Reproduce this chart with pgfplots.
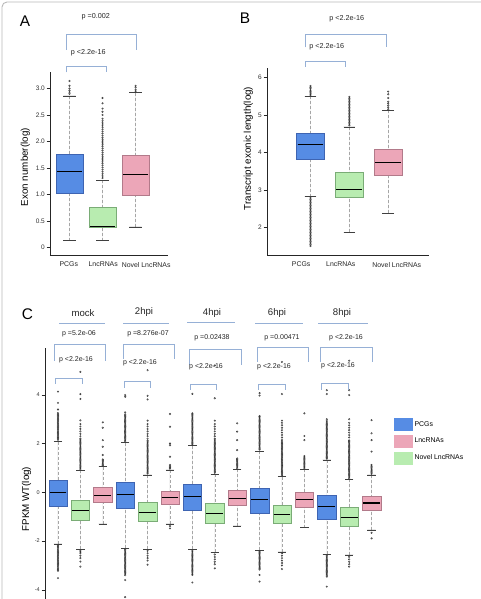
\documentclass[border=0pt]{standalone}
\usepackage{fontspec}
\setmainfont{Liberation Sans}
\usepackage{pgfplots}
\pgfplotsset{compat=1.18}
\usepgfplotslibrary{statistics}

\definecolor{cblue}{RGB}{86,140,228}
\definecolor{cblueD}{RGB}{62,100,178}
\definecolor{cpink}{RGB}{236,166,184}
\definecolor{cpinkD}{RGB}{178,122,138}
\definecolor{cgreen}{RGB}{184,236,176}
\definecolor{cgreenD}{RGB}{122,172,118}
\definecolor{brk}{RGB}{150,176,214}
\newcommand{\fs}[1]{\fontsize{#1}{#1}\selectfont}

\pgfplotsset{
  boxplot/draw/lower whisker/.code={%
    \draw[densely dashed, gray!70, line width=0.35pt]
      (boxplot box cs:\pgfplotsboxplotvalue{lower whisker},0.5) --
      (boxplot box cs:\pgfplotsboxplotvalue{lower quartile},0.5);
    \draw[solid, black!75, line width=0.5pt]
      (boxplot whisker cs:\pgfplotsboxplotvalue{lower whisker},0) --
      (boxplot whisker cs:\pgfplotsboxplotvalue{lower whisker},1);
  },
  boxplot/draw/upper whisker/.code={%
    \draw[densely dashed, gray!70, line width=0.35pt]
      (boxplot box cs:\pgfplotsboxplotvalue{upper whisker},0.5) --
      (boxplot box cs:\pgfplotsboxplotvalue{upper quartile},0.5);
    \draw[solid, black!75, line width=0.5pt]
      (boxplot whisker cs:\pgfplotsboxplotvalue{upper whisker},0) --
      (boxplot whisker cs:\pgfplotsboxplotvalue{upper whisker},1);
  },
  boxplot/draw/median/.code={%
    \draw[solid, black, line width=1.1pt]
      (boxplot box cs:\pgfplotsboxplotvalue{median},0.04) --
      (boxplot box cs:\pgfplotsboxplotvalue{median},0.96);
  },
  outl/.style={mark=o, mark size=0.8pt, mark options={draw=black!80, fill=none, solid, line width=0.4pt}},
  bB/.style={forget plot, fill=cblue, draw=cblueD, line width=0.45pt, outl},
  bP/.style={forget plot, fill=cpink, draw=cpinkD, line width=0.45pt, outl},
  bG/.style={forget plot, fill=cgreen, draw=cgreenD, line width=0.45pt, outl},
  common/.style={scale only axis, anchor=south west, clip=false,
    boxplot/draw direction=y,
    tick align=outside, major tick length=3.5pt,
    axis line style={black!85, line width=0.7pt},
    ytick style={black!85, line width=0.5pt},
    xtick style={draw=none},
    yticklabel style={font=\fs{6.5}, text=black!80, inner sep=1.5pt},
    xticklabel style={font=\fs{6.9}, text=black!85},
  },
}

\begin{document}
\begin{tikzpicture}
\useasboundingbox (0pt,0pt) rectangle (480pt,599pt);
\fill[white] (0pt,0pt) rectangle (480pt,599pt);

% ---------------- Panel A ----------------
\begin{axis}[common, at={(50pt,344pt)}, width=118pt, height=183pt,
  xmin=0.41, xmax=3.98, ymin=-0.14, ymax=3.31,
  axis lines*=left,
  xtick={0.98,2.02,3.32}, xticklabels={PCGs,LncRNAs,Novel LncRNAs},
  ytick={0,0.5,1,1.5,2,2.5,3}, yticklabels={0,0.5,1.0,1.5,2.0,2.5,3.0},
  ylabel={Exon number(log)},
  ylabel style={at={(axis description cs:-0.21,0.48)}, anchor=center, font=\fs{9.8}},
  boxplot/box extend=0.82, boxplot/whisker extend=0.37,
]
\addplot[bB, boxplot prepared={draw position=1, lower whisker=0.13, lower quartile=1.02, median=1.44, upper quartile=1.76, upper whisker=2.86}]
  table[row sep=\\, y index=0]{y\\ 2.9\\ 2.93\\ 2.96\\ 3.0\\ 3.05\\ 3.14\\};
\addplot[bG, boxplot prepared={draw position=2, lower whisker=0.13, lower quartile=0.38, median=0.39, upper quartile=0.76, upper whisker=1.27}]
  table[row sep=\\, y index=0]{y\\ 1.31\\ 1.35\\ 1.39\\ 1.43\\ 1.47\\ 1.51\\ 1.55\\ 1.59\\ 1.63\\ 1.67\\ 1.71\\ 1.75\\ 1.79\\ 1.83\\ 1.87\\ 1.91\\ 1.95\\ 1.99\\ 2.03\\ 2.07\\ 2.11\\ 2.15\\ 2.19\\ 2.23\\ 2.27\\ 2.31\\ 2.35\\ 2.39\\ 2.43\\ 2.5\\ 2.56\\ 2.62\\ 2.72\\ 2.82\\};
\addplot[bP, boxplot prepared={draw position=3, lower whisker=0.39, lower quartile=0.98, median=1.37, upper quartile=1.75, upper whisker=2.92}]
  table[row sep=\\, y index=0]{y\\ 2.95\\ 2.98\\ 3.02\\ 3.05\\};
\end{axis}

% ---------------- Panel B ----------------
\begin{axis}[common, at={(267pt,344pt)}, width=162pt, height=187pt,
  xmin=-0.12, xmax=4.05, ymin=1.26, ymax=6.25,
  axis lines*=left,
  xtick={0.76,1.78,3.22}, xticklabels={PCGs,LncRNAs,Novel LncRNAs},
  ytick={2,3,4,5,6}, yticklabels={2,3,4,5,6},
  ylabel={Transcript exonic length(log)},
  ylabel style={at={(axis description cs:-0.115,0.57)}, anchor=center, font=\fs{9.8}},
  boxplot/box extend=0.72, boxplot/whisker extend=0.3,
]
\addplot[bB, boxplot prepared={draw position=1, lower whisker=2.82, lower quartile=3.81, median=4.21, upper quartile=4.50, upper whisker=5.50}]
  table[row sep=\\, y index=0]{y\\ 5.53\\ 5.56\\ 5.6\\ 5.63\\ 5.66\\ 5.7\\ 5.73\\ 5.77\\ 2.78\\ 2.74\\ 2.70\\ 2.66\\ 2.62\\ 2.58\\ 2.54\\ 2.50\\ 2.46\\ 2.42\\ 2.38\\ 2.34\\ 2.30\\ 2.26\\ 2.22\\ 2.18\\ 2.14\\ 2.10\\ 2.06\\ 2.02\\ 1.98\\ 1.94\\ 1.90\\ 1.86\\ 1.82\\ 1.78\\ 1.74\\ 1.70\\ 1.66\\ 1.62\\ 1.58\\ 1.54\\ 1.50\\};
\addplot[bG, boxplot prepared={draw position=2, lower whisker=1.87, lower quartile=2.79, median=3.01, upper quartile=3.47, upper whisker=4.68}]
  table[row sep=\\, y index=0]{y\\ 4.72\\ 4.76\\ 4.80\\ 4.84\\ 4.88\\ 4.92\\ 4.96\\ 5.00\\ 5.04\\ 5.08\\ 5.12\\ 5.16\\ 5.20\\ 5.24\\ 5.28\\ 5.32\\ 5.36\\ 5.40\\ 5.44\\ 5.48\\};
\addplot[bP, boxplot prepared={draw position=3, lower whisker=2.38, lower quartile=3.39, median=3.72, upper quartile=4.08, upper whisker=5.12}]
  table[row sep=\\, y index=0]{y\\ 5.15\\ 5.2\\ 5.25\\ 5.3\\ 5.35\\ 5.45\\ 5.55\\ 5.62\\};
\end{axis}

% ---------------- Panel C ----------------
\begin{axis}[common, at={(45pt,-3pt)}, width=340pt, height=254pt,
  xmin=-0.58, xmax=14.6, ymin=-4.5, ymax=5.92,
  axis y line*=left, axis x line=none,
  ytick={-4,-2,0,2,4}, yticklabels={-4,-2,0,2,4},
  yticklabel style={font=\fs{5.5}},
  ylabel={FPKM WT(log)},
  ylabel style={at={(axis description cs:-0.054,0.405)}, anchor=center, font=\fs{9.8}},
  boxplot/box extend=0.82, boxplot/whisker extend=0.37,
  legend style={at={(axis cs:15.0,3.05)}, anchor=north west, draw=none, fill=none,
    inner sep=0pt, font=\fs{6.9}, row sep=4.5pt},
  legend cell align=left,
]
% mock
\addplot[bB, boxplot prepared={draw position=0, lower whisker=-2.12, lower quartile=-0.56, median=0.0, upper quartile=0.51, upper whisker=2.08}]
  table[row sep=\\, y index=0]{y\\ 2.15\\ 2.2\\ 2.25\\ 2.3\\ 2.35\\ 2.4\\ 2.45\\ 2.5\\ 2.55\\ 2.6\\ 2.65\\ 2.7\\ 2.75\\ 2.8\\ 2.85\\ 2.9\\ 2.95\\ 3.0\\ 3.05\\ 3.1\\ 3.15\\ 3.2\\ 3.25\\ 3.4\\ 3.67\\ 4.13\\ -2.17\\ -2.22\\ -2.27\\ -2.32\\ -2.37\\ -2.42\\ -2.47\\ -2.52\\ -2.57\\ -2.62\\ -2.67\\ -2.72\\ -2.77\\ -2.82\\ -2.87\\ -2.92\\ -2.97\\ -3.02\\ -3.07\\ -3.12\\ -3.17\\ -3.22\\ -3.52\\};
\addplot[bG, boxplot prepared={draw position=1, lower whisker=-2.34, lower quartile=-1.13, median=-0.74, upper quartile=-0.33, upper whisker=0.90}]
  table[row sep=\\, y index=0]{y\\ 0.95\\ 1.0\\ 1.05\\ 1.1\\ 1.15\\ 1.2\\ 1.25\\ 1.3\\ 1.35\\ 1.4\\ 1.45\\ 1.5\\ 1.55\\ 1.6\\ 1.65\\ 1.7\\ 1.75\\ 1.8\\ 1.85\\ 1.9\\ 1.95\\ 2.0\\ 2.05\\ 2.1\\ 2.15\\ 2.2\\ 2.3\\ 2.4\\ 2.5\\ 2.6\\ 2.7\\ 2.8\\ 2.95\\ 3.83\\ 4.03\\ 4.94\\ -2.4\\ -2.45\\ -2.5\\ -2.6\\ -2.7\\ -2.84\\ -3.05\\};
\addplot[bP, boxplot prepared={draw position=2, lower whisker=-1.30, lower quartile=-0.42, median=-0.12, upper quartile=0.19, upper whisker=1.05}]
  table[row sep=\\, y index=0]{y\\ 1.1\\ 1.15\\ 1.2\\ 1.25\\ 1.3\\ 1.35\\ 1.53\\ 1.87\\ 2.14\\ 2.65\\ 2.87\\};
% 2hpi
\addplot[bB, boxplot prepared={draw position=3, lower whisker=-2.30, lower quartile=-0.66, median=-0.08, upper quartile=0.41, upper whisker=2.04}]
  table[row sep=\\, y index=0]{y\\ 2.1\\ 2.15\\ 2.2\\ 2.25\\ 2.3\\ 2.35\\ 2.4\\ 2.45\\ 2.5\\ 2.55\\ 2.6\\ 2.65\\ 2.7\\ 2.75\\ 2.8\\ 2.85\\ 2.9\\ 2.95\\ 3.0\\ 3.05\\ 3.1\\ 3.15\\ 3.2\\ 3.28\\ 3.92\\ 3.99\\ -2.35\\ -2.4\\ -2.45\\ -2.5\\ -2.55\\ -2.6\\ -2.65\\ -2.7\\ -2.75\\ -2.8\\ -2.85\\ -2.9\\ -2.95\\ -3.0\\ -3.05\\ -3.1\\ -3.15\\ -3.2\\ -3.25\\ -3.3\\ -3.35\\ -3.4\\ -3.6\\ -4.3\\};
\addplot[bG, boxplot prepared={draw position=4, lower whisker=-2.34, lower quartile=-1.20, median=-0.82, upper quartile=-0.42, upper whisker=0.72}]
  table[row sep=\\, y index=0]{y\\ 0.77\\ 0.82\\ 0.87\\ 0.92\\ 0.97\\ 1.02\\ 1.07\\ 1.12\\ 1.17\\ 1.22\\ 1.27\\ 1.32\\ 1.37\\ 1.42\\ 1.47\\ 1.52\\ 1.57\\ 1.62\\ 1.67\\ 1.72\\ 1.77\\ 1.82\\ 1.87\\ 1.92\\ 1.97\\ 2.02\\ 2.07\\ 2.12\\ 2.2\\ 2.3\\ 2.4\\ 2.5\\ 2.6\\ 2.7\\ 2.8\\ 2.94\\ 3.81\\ 3.96\\ 5.01\\ -2.4\\ -2.5\\ -2.6\\ -2.7\\ -2.8\\ -2.97\\};
\addplot[bP, boxplot prepared={draw position=5, lower whisker=-1.30, lower quartile=-0.49, median=-0.23, upper quartile=0.05, upper whisker=0.92}]
  table[row sep=\\, y index=0]{y\\ 0.97\\ 1.02\\ 1.07\\ 1.12\\ 1.46\\ 1.93\\ 2.0\\ 2.69\\ 3.21\\ -1.38\\ -1.48\\};
% 4hpi
\addplot[bB, boxplot prepared={draw position=6, lower whisker=-2.34, lower quartile=-0.75, median=-0.18, upper quartile=0.33, upper whisker=1.91}]
  table[row sep=\\, y index=0]{y\\ 1.95\\ 2.0\\ 2.05\\ 2.1\\ 2.15\\ 2.2\\ 2.25\\ 2.3\\ 2.35\\ 2.4\\ 2.45\\ 2.5\\ 2.55\\ 2.6\\ 2.65\\ 2.7\\ 2.75\\ 2.8\\ 2.85\\ 2.9\\ 2.95\\ 3.0\\ 3.05\\ 3.1\\ 3.15\\ 3.2\\ 3.24\\ 4.04\\ -2.4\\ -2.45\\ -2.5\\ -2.55\\ -2.6\\ -2.65\\ -2.7\\ -2.75\\ -2.8\\ -2.85\\ -2.9\\ -2.95\\ -3.0\\ -3.05\\ -3.1\\ -3.15\\ -3.2\\ -3.25\\ -3.3\\ -3.35\\ -3.39\\ -3.7\\};
\addplot[bG, boxplot prepared={draw position=7, lower whisker=-2.46, lower quartile=-1.27, median=-0.86, upper quartile=-0.45, upper whisker=0.75}]
  table[row sep=\\, y index=0]{y\\ 0.8\\ 0.85\\ 0.9\\ 0.95\\ 1.0\\ 1.05\\ 1.1\\ 1.15\\ 1.2\\ 1.25\\ 1.3\\ 1.35\\ 1.4\\ 1.45\\ 1.5\\ 1.55\\ 1.6\\ 1.65\\ 1.7\\ 1.75\\ 1.8\\ 1.85\\ 1.9\\ 1.95\\ 2.0\\ 2.05\\ 2.1\\ 2.15\\ 2.2\\ 2.3\\ 2.4\\ 2.5\\ 2.6\\ 2.7\\ 2.8\\ 2.94\\ 3.86\\ 5.2\\ -2.55\\ -2.65\\ -2.75\\ -2.85\\ -2.95\\ -3.12\\};
\addplot[bP, boxplot prepared={draw position=8, lower whisker=-1.38, lower quartile=-0.53, median=-0.25, upper quartile=0.07, upper whisker=0.94}]
  table[row sep=\\, y index=0]{y\\ 0.99\\ 1.04\\ 1.09\\ 1.14\\ 1.19\\ 1.24\\ 1.29\\ 1.34\\ 1.39\\ 1.73\\ 2.14\\ 2.49\\ 2.83\\};
% 6hpi
\addplot[bB, boxplot prepared={draw position=9, lower whisker=-2.37, lower quartile=-0.86, median=-0.31, upper quartile=0.16, upper whisker=1.69}]
  table[row sep=\\, y index=0]{y\\ 1.75\\ 1.8\\ 1.85\\ 1.9\\ 1.95\\ 2.0\\ 2.05\\ 2.1\\ 2.15\\ 2.2\\ 2.25\\ 2.3\\ 2.35\\ 2.4\\ 2.45\\ 2.5\\ 2.55\\ 2.6\\ 2.65\\ 2.7\\ 2.75\\ 2.8\\ 2.85\\ 2.9\\ 2.95\\ 3.0\\ 3.05\\ 3.1\\ 3.13\\ 3.97\\ 4.07\\ -2.42\\ -2.47\\ -2.52\\ -2.57\\ -2.62\\ -2.67\\ -2.72\\ -2.77\\ -2.82\\ -2.87\\ -2.92\\ -2.97\\ -3.02\\ -3.07\\ -3.12\\ -3.17\\ -3.39\\ -3.66\\};
\addplot[bG, boxplot prepared={draw position=10, lower whisker=-2.44, lower quartile=-1.28, median=-0.90, upper quartile=-0.52, upper whisker=0.64}]
  table[row sep=\\, y index=0]{y\\ 0.7\\ 0.75\\ 0.8\\ 0.85\\ 0.9\\ 0.95\\ 1.0\\ 1.05\\ 1.1\\ 1.15\\ 1.2\\ 1.25\\ 1.3\\ 1.35\\ 1.4\\ 1.45\\ 1.5\\ 1.55\\ 1.6\\ 1.65\\ 1.7\\ 1.75\\ 1.8\\ 1.85\\ 1.9\\ 1.95\\ 2.0\\ 2.05\\ 2.1\\ 2.15\\ 2.25\\ 2.35\\ 2.45\\ 2.55\\ 2.65\\ 2.75\\ 2.85\\ 2.94\\ 4.03\\ 5.35\\ -2.5\\ -2.6\\ -2.7\\ -2.8\\ -2.9\\ -3.0\\ -3.15\\};
\addplot[bP, boxplot prepared={draw position=11, lower whisker=-1.45, lower quartile=-0.63, median=-0.30, upper quartile=0.01, upper whisker=0.94}]
  table[row sep=\\, y index=0]{y\\ 0.99\\ 1.04\\ 1.09\\ 1.14\\ 1.19\\ 1.24\\ 1.29\\ 1.34\\ 1.39\\ 1.44\\ 1.49\\ 2.14\\ 2.31\\ 3.24\\};
% 8hpi
\addplot[bB, boxplot prepared={draw position=12, lower whisker=-2.55, lower quartile=-1.11, median=-0.60, upper quartile=-0.14, upper whisker=1.33}]
  table[row sep=\\, y index=0]{y\\ 1.38\\ 1.43\\ 1.48\\ 1.53\\ 1.58\\ 1.63\\ 1.68\\ 1.73\\ 1.78\\ 1.83\\ 1.88\\ 1.93\\ 1.98\\ 2.03\\ 2.08\\ 2.13\\ 2.18\\ 2.23\\ 2.28\\ 2.33\\ 2.38\\ 2.43\\ 2.48\\ 2.53\\ 2.58\\ 2.63\\ 2.68\\ 2.73\\ 2.78\\ 2.83\\ 2.88\\ 2.93\\ 3.0\\ 4.03\\ 4.19\\ -2.6\\ -2.65\\ -2.7\\ -2.75\\ -2.8\\ -2.85\\ -2.9\\ -2.95\\ -3.0\\ -3.05\\ -3.1\\ -3.15\\ -3.2\\ -3.25\\ -3.3\\ -3.35\\ -3.4\\ -3.46\\ -3.87\\};
\addplot[bG, boxplot prepared={draw position=13, lower whisker=-2.57, lower quartile=-1.41, median=-1.02, upper quartile=-0.63, upper whisker=0.53}]
  table[row sep=\\, y index=0]{y\\ 0.58\\ 0.63\\ 0.68\\ 0.73\\ 0.78\\ 0.83\\ 0.88\\ 0.93\\ 0.98\\ 1.03\\ 1.08\\ 1.13\\ 1.18\\ 1.23\\ 1.28\\ 1.33\\ 1.38\\ 1.43\\ 1.48\\ 1.53\\ 1.58\\ 1.63\\ 1.68\\ 1.73\\ 1.78\\ 1.83\\ 1.88\\ 1.93\\ 1.98\\ 2.03\\ 2.08\\ 2.13\\ 2.25\\ 2.35\\ 2.45\\ 2.55\\ 2.65\\ 2.75\\ 2.85\\ 3.0\\ 3.99\\ 4.19\\ 5.4\\ -2.65\\ -2.75\\ -2.85\\ -2.95\\ -3.05\\};
\addplot[bP, boxplot prepared={draw position=14, lower whisker=-1.54, lower quartile=-0.75, median=-0.44, upper quartile=-0.15, upper whisker=0.71}]
  table[row sep=\\, y index=0]{y\\ 0.76\\ 0.81\\ 0.86\\ 0.91\\ 0.96\\ 1.01\\ 1.06\\ 1.12\\ 1.67\\ 2.14\\ 2.42\\ 2.96\\ -1.66\\ -1.89\\};

\addlegendimage{legend image code/.code={\fill[cblue] (0pt,-6pt) rectangle (18pt,6pt);}}
\addlegendentry{PCGs}
\addlegendimage{legend image code/.code={\fill[cpink] (0pt,-6pt) rectangle (18pt,6pt);}}
\addlegendentry{LncRNAs}
\addlegendimage{legend image code/.code={\fill[cgreen] (0pt,-6pt) rectangle (18pt,6pt);}}
\addlegendentry{Novel LncRNAs}
\end{axis}

% ---------------- annotations (pixel coordinates, y down) ----------------
\begin{scope}[x=1pt, y=-1pt, yshift=599pt]
  \draw[gray!55, line width=0.9pt, rounded corners=5pt] (2,700) -- (2,2) -- (600,2);
  % panel A
  \node[font=\fs{15.4}] at (25,21) {A};
  \node[font=\fs{7.2}, text=black!85] at (95.7,16.7) {p =0.002};
  \draw[brk, line width=0.6pt] (66.7,50) -- (66.7,34.3) -- (136.7,34.3) -- (136.7,50);
  \node[font=\fs{7.2}, text=black!85] at (88.3,52.3) {p <2.2e-16};
  \draw[brk, line width=0.6pt] (66.7,72.3) -- (66.7,66.7) -- (106,66.7) -- (106,72.3);
  % panel B
  \node[font=\fs{15.4}] at (245,18) {B};
  \node[font=\fs{7.2}, text=black!85] at (346.7,19) {p <2.2e-16};
  \draw[brk, line width=0.6pt] (305.7,47.3) -- (305.7,34.3) -- (386.7,34.3) -- (386.7,47.3);
  \node[font=\fs{7.2}, text=black!85] at (326.7,46.7) {p <2.2e-16};
  \draw[brk, line width=0.6pt] (305.7,66.7) -- (305.7,61.7) -- (345.3,61.7) -- (345.3,66.7);
  % panel C
  \node[font=\fs{15.4}] at (27.5,314) {C};
  % mock
  \node[font=\fs{9.6}, text=black!85] at (83,313) {mock};
  \draw[brk, line width=0.6pt] (59,323) -- (105,323);
  \node[font=\fs{7}, text=black!85] at (79,334) {p =5.2e-06};
  \draw[brk, line width=0.6pt] (54,361) -- (54,344) -- (105,344) -- (105,361);
  \node[font=\fs{7}, text=black!85] at (76,360) {p <2.2e-16};
  \draw[brk, line width=0.6pt] (55,384) -- (55,378) -- (82,378) -- (82,384);
  % 2hpi
  \node[font=\fs{9.6}, text=black!85] at (144,312) {2hpi};
  \draw[brk, line width=0.6pt] (123,323) -- (169,323);
  \node[font=\fs{7}, text=black!85] at (148,334) {p =8.276e-07};
  \draw[brk, line width=0.6pt] (123,359) -- (123,344) -- (174,344) -- (174,359);
  \node[font=\fs{7}, text=black!85] at (140,363) {p <2.2e-16};
  \draw[brk, line width=0.6pt] (124.3,388) -- (124.3,381.7) -- (150,381.7) -- (150,388);
  % 4hpi
  \node[font=\fs{9.6}, text=black!85] at (212,313) {4hpi};
  \draw[brk, line width=0.6pt] (187,322) -- (235,322);
  \node[font=\fs{7}, text=black!85] at (212,338) {p =0.02438};
  \draw[brk, line width=0.6pt] (189,365) -- (189,349) -- (241,349) -- (241,365);
  \node[font=\fs{7}, text=black!85] at (206,367) {p <2.2e-16};
  \draw[brk, line width=0.6pt] (190,390) -- (190,384.3) -- (216.7,384.3) -- (216.7,390);
  % 6hpi
  \node[font=\fs{9.6}, text=black!85] at (277,313) {6hpi};
  \draw[brk, line width=0.6pt] (255,323) -- (303,323);
  \node[font=\fs{7}, text=black!85] at (282,338) {p =0.00471};
  \draw[brk, line width=0.6pt] (257,362) -- (257,347) -- (308,347) -- (308,362);
  \node[font=\fs{7}, text=black!85] at (274,367) {p <2.2e-16};
  \draw[brk, line width=0.6pt] (258.3,390) -- (258.3,384.3) -- (285,384.3) -- (285,390);
  % 8hpi
  \node[font=\fs{9.6}, text=black!85] at (342,313) {8hpi};
  \draw[brk, line width=0.6pt] (318,323) -- (368,323);
  \node[font=\fs{7}, text=black!85] at (346,338) {p <2.2e-16};
  \draw[brk, line width=0.6pt] (320,362) -- (320,347) -- (372,347) -- (372,362);
  \node[font=\fs{7}, text=black!85] at (338,366) {p <2.2e-16};
  \draw[brk, line width=0.6pt] (321.7,390) -- (321.7,383.3) -- (348.3,383.3) -- (348.3,390);
\end{scope}
\end{tikzpicture}
\end{document}
